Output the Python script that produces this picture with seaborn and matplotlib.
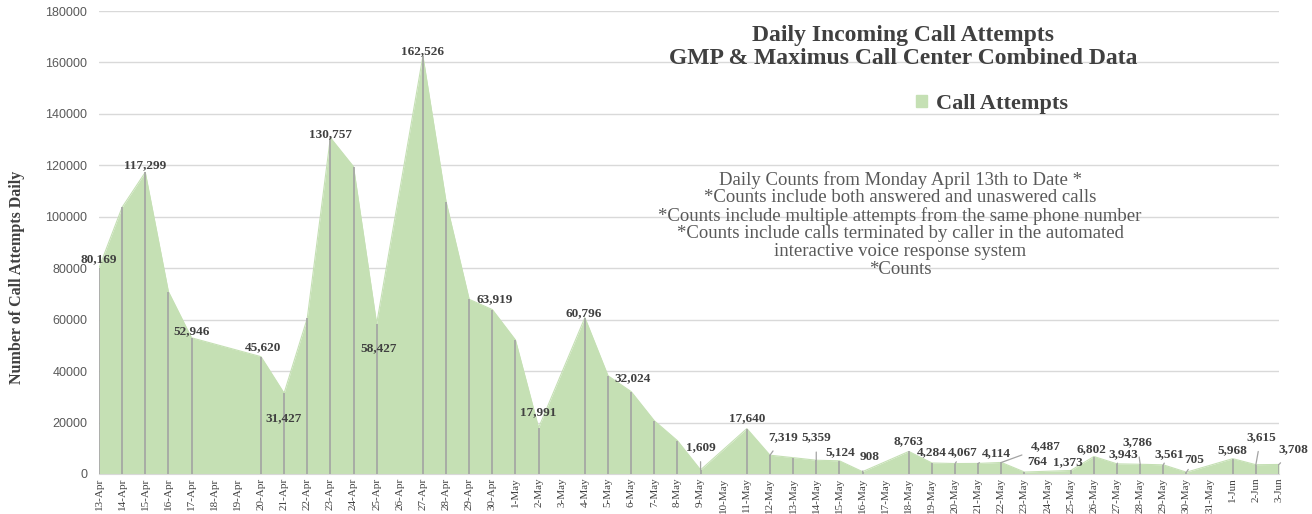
import pandas as pd
import seaborn as sns
import matplotlib.pyplot as plt
from matplotlib.patches import Patch

# Call attempts per day (weekend days missing in the source are simply skipped)
dates = ['2020-04-13', '2020-04-14', '2020-04-15', '2020-04-16', '2020-04-17',
         '2020-04-20', '2020-04-21', '2020-04-22', '2020-04-23', '2020-04-24',
         '2020-04-25', '2020-04-27', '2020-04-28', '2020-04-29', '2020-04-30',
         '2020-05-01', '2020-05-02', '2020-05-04', '2020-05-05', '2020-05-06',
         '2020-05-07', '2020-05-08', '2020-05-09', '2020-05-11', '2020-05-12',
         '2020-05-13', '2020-05-14', '2020-05-15', '2020-05-16', '2020-05-18',
         '2020-05-19', '2020-05-20', '2020-05-21', '2020-05-22', '2020-05-23',
         '2020-05-25', '2020-05-26', '2020-05-27', '2020-05-28', '2020-05-29',
         '2020-05-30', '2020-06-01', '2020-06-02', '2020-06-03']
calls = [80169, 103700, 117299, 70900, 52946,
         45620, 31427, 60500, 130757, 119500,
         58427, 162526, 105900, 67900, 63919,
         52100, 17991, 60796, 38200, 32024,
         20700, 12950, 1609, 17640, 7319,
         6350, 5359, 5124, 908, 8763,
         4284, 4067, 4114, 4487, 764,
         1373, 6802, 3943, 3786, 3561,
         705, 5968, 3615, 3708]
labeled = [True, False, True, False, True,
           True, True, False, True, False,
           True, True, False, False, True,
           False, True, True, False, True,
           False, False, True, True, True,
           False, True, True, True, True,
           True, True, True, True, True,
           True, True, True, True, True,
           True, True, True, True]

title_lines = ['Daily Incoming Call Attempts',
               'GMP & Maximus Call Center Combined Data']
note_lines = ['Daily Counts from Monday April 13th to Date *',
              '*Counts include both answered and unaswered calls',
              '*Counts include multiple attempts from the same phone number',
              '*Counts include calls terminated by caller in the automated',
              'interactive voice response system',
              '*Counts']

# label placement in pixels (dx, dy downward) relative to the point
label_offsets = {
    '2020-04-13': (0, -9), '2020-04-15': (0, -7), '2020-04-17': (0, -7),
    '2020-04-20': (2, -9), '2020-04-21': (0, 25), '2020-04-23': (0, -4),
    '2020-04-25': (2, 24), '2020-04-27': (0, -5), '2020-04-30': (2, -10),
    '2020-05-02': (0, -16), '2020-05-04': (-1, -4), '2020-05-06': (1, -13),
    '2020-05-09': (0, -23), '2020-05-11': (0, -10), '2020-05-12': (13, -18),
    '2020-05-14': (0, -23), '2020-05-15': (1, -9), '2020-05-16': (7, -15),
    '2020-05-18': (0, -10), '2020-05-19': (0, -11), '2020-05-20': (8, -11),
    '2020-05-21': (18, -10), '2020-05-22': (44, -16), '2020-05-23': (13, -10),
    '2020-05-25': (-3, -8), '2020-05-26': (-2, -7), '2020-05-27': (6, -10),
    '2020-05-28': (-3, -22), '2020-05-29': (6, -11), '2020-05-30': (8, -12),
    '2020-06-01': (0, -8), '2020-06-02': (5, -28), '2020-06-03': (14, -15),
}
leaders = ['2020-05-09', '2020-05-12', '2020-05-14', '2020-05-16', '2020-05-20',
           '2020-05-21', '2020-05-22', '2020-05-27', '2020-05-28', '2020-05-29',
           '2020-05-30', '2020-06-02', '2020-06-03']

df = pd.DataFrame({'date': pd.to_datetime(dates), 'calls': calls, 'labeled': labeled})
df['day'] = (df['date'] - df['date'].min()).dt.days

green = '#c5e0b4'
serif = 'Liberation Serif'
W, H = 1312, 514

sns.set_style("white")
fig = plt.figure(figsize=(13.12, 5.14), dpi=100)
ax = fig.add_axes([99 / W, 1 - 474 / H, 1180 / W, 463 / H])

ax.fill_between(df['day'], df['calls'], 0, color=green, lw=0, zorder=2)
sns.lineplot(data=df, x='day', y='calls', color=green, lw=0.8, ax=ax, zorder=2)
ax.vlines(df['day'], 0, df['calls'], color='#a3a3a3', lw=1.2, zorder=3)

for _, row in df[df['labeled']].iterrows():
    key = row['date'].strftime('%Y-%m-%d')
    dx, dy = label_offsets[key]
    arrow = None
    if key in leaders:
        arrow = dict(arrowstyle='-', color='#a3a3a3', lw=0.9, shrinkA=4, shrinkB=0)
    ax.annotate(f"{row['calls']:,}", (row['day'], row['calls']),
                xytext=(dx, -dy), textcoords='offset pixels',
                ha='center', va='center', fontsize=9.5, fontweight='bold',
                family=serif, color='#404040', arrowprops=arrow, zorder=5)

all_days = pd.date_range(df['date'].min(), df['date'].max())
ax.set_xticks(range(len(all_days)))
ax.set_xticklabels([f"{d.day}-{d.strftime('%b')}" for d in all_days],
                   rotation=90, family=serif, fontsize=8, color='#404040')
ax.set_xlim(0, len(all_days) - 1)
ax.set_ylim(0, 180000)
ax.set_yticks(range(0, 180001, 20000))
ax.set_yticklabels([str(v) for v in range(0, 180001, 20000)],
                   family='Liberation Sans', fontsize=9, color='#595959')
ax.tick_params(axis='both', length=0)
ax.tick_params(axis='y', pad=8.5)
ax.tick_params(axis='x', pad=2.5)
ax.grid(axis='y', color='#d9d9d9', lw=1, zorder=0)
ax.set_axisbelow(True)
for s in ['top', 'right', 'left']:
    ax.spines[s].set_visible(False)
ax.spines['bottom'].set_color('#d9d9d9')
ax.set_xlabel('')
ax.set_ylabel('')

fig.text(17 / W, 1 - 277 / H, 'Number of Call Attempts Daily', rotation=90,
         ha='center', va='center', family=serif, fontweight='bold',
         fontsize=11.5, color='#404040')

for line, y in zip(title_lines, [36, 59]):
    fig.text(903 / W, 1 - y / H, line, ha='center', va='center', family=serif,
             fontweight='bold', fontsize=17, color='#404040')

ax.legend(handles=[Patch(color=green, label='Call Attempts')], loc='center left',
          bbox_to_anchor=(905 / W, 1 - 104 / H), bbox_transform=fig.transFigure,
          frameon=False, borderpad=0, handlelength=0.5, handleheight=0.5,
          handletextpad=0.4, prop={'family': serif, 'weight': 'bold', 'size': 16},
          labelcolor='#404040')

for line, y in zip(note_lines, [180, 198, 216, 234, 252, 269]):
    fig.text(900 / W, 1 - y / H, line, ha='center', va='center', family=serif,
             fontsize=13.5, color='#595959', zorder=6)

fig.savefig('out.png', dpi=100)
